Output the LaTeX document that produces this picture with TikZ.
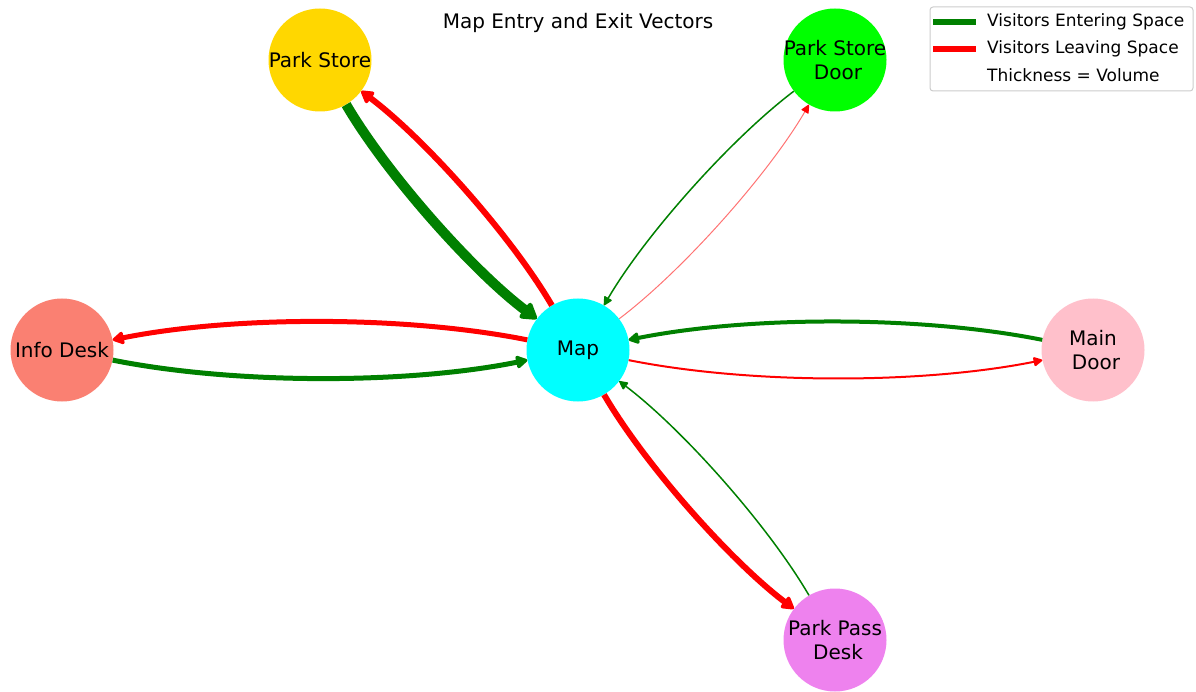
\documentclass[tikz,border=0pt]{standalone}
\usepackage{fontspec}
\setmainfont{DejaVu Sans}
\usetikzlibrary{arrows.meta,calc}

\definecolor{flowgreen}{HTML}{008000}
\definecolor{flowred}{HTML}{FF0000}
\definecolor{cgold}{HTML}{FFD700}
\definecolor{clime}{HTML}{00FF00}
\definecolor{csalmon}{HTML}{FA8072}
\definecolor{caqua}{HTML}{00FFFF}
\definecolor{cpink}{HTML}{FFC0CB}
\definecolor{cviolet}{HTML}{EE82EE}
\definecolor{legendedge}{HTML}{CCCCCC}

\tikzset{
  place/.style={circle, minimum size=103pt, inner sep=0pt, draw=none},
  lbl/.style={font=\fontsize{20}{24}\selectfont, align=center, inner sep=0pt},
  flow/.style={line cap=butt, -{Triangle[length=8pt 1, width=7pt 1.4, round]}},
  enter/.style={flow, draw=flowgreen},
  leave/.style={flow, draw=flowred},
  legendtext/.style={font=\fontsize{17}{20}\selectfont, anchor=west, inner sep=0pt},
}

% curved edge: quadratic arc bulging to the side by 0.1 of the chord
\newcommand\arcedge[3]{%
  \coordinate (q-#2-#3) at ($(#2)!0.5!(#3)!0.2!-90:(#3)$);
  \draw[#1] (#2) .. controls ($(#2)!0.6667!(q-#2-#3)$) and ($(#3)!0.6667!(q-#2-#3)$) .. (#3);
}

\begin{document}
\begin{tikzpicture}[x=1pt,y=-1pt]
\useasboundingbox (0,0) rectangle (1196,692);

% places
\node[place, fill=cgold,   label={[lbl]center:Park Store}] (store) at (320,60) {};
\node[place, fill=clime,   label={[lbl]center:{Park Store\\\hspace*{6pt}Door}}] (sdoor) at (835,60) {};
\node[place, fill=csalmon, label={[lbl]center:Info Desk}] (info) at (62,350) {};
\node[place, fill=caqua,   label={[lbl]center:Map}] (map) at (578,350) {};
\node[place, fill=cpink,   label={[lbl]center:{Main\\\hspace*{6pt}Door}}] (main) at (1093,350) {};
\node[place, fill=cviolet, label={[lbl]center:{Park Pass\\\hspace*{6pt}Desk}}] (pass) at (835,640) {};

% flows into and out of the map
\arcedge{enter, line width=10pt}{store}{map}
\arcedge{leave, line width=6pt}{map}{store}
\arcedge{enter, line width=5pt}{info}{map}
\arcedge{leave, line width=5pt}{map}{info}
\arcedge{enter, line width=4pt}{main}{map}
\arcedge{leave, line width=2pt}{map}{main}
\arcedge{enter, line width=1.5pt}{sdoor}{map}
\arcedge{leave, line width=1pt, draw=flowred!55, -{Triangle[length=8pt 1, width=7pt 1.4, round, color=flowred]}}{map}{sdoor}
\arcedge{leave, line width=6pt}{map}{pass}
\arcedge{enter, line width=1.5pt}{pass}{map}

% title
\node[font=\fontsize{20}{24}\selectfont] (title) at (578,23) {Map Entry and Exit Vectors};

% legend
\draw[legendedge, line width=1pt, fill=white, rounded corners=3pt] (930,7) rectangle (1193,91);
\coordinate (ga) at (933,22); \coordinate (gb) at (976,22);
\coordinate (ra) at (933,49); \coordinate (rb) at (976,49);
\draw[flowgreen, line width=6pt] (ga) -- (gb);
\draw[flowred, line width=6pt] (ra) -- (rb);
\node[legendtext] (l1) at (987,22) {Visitors Entering Space};
\node[legendtext] (l2) at (987,49) {Visitors Leaving Space};
\node[legendtext] (l3) at (987,75) {Thickness = Volume};
\end{tikzpicture}
\end{document}
